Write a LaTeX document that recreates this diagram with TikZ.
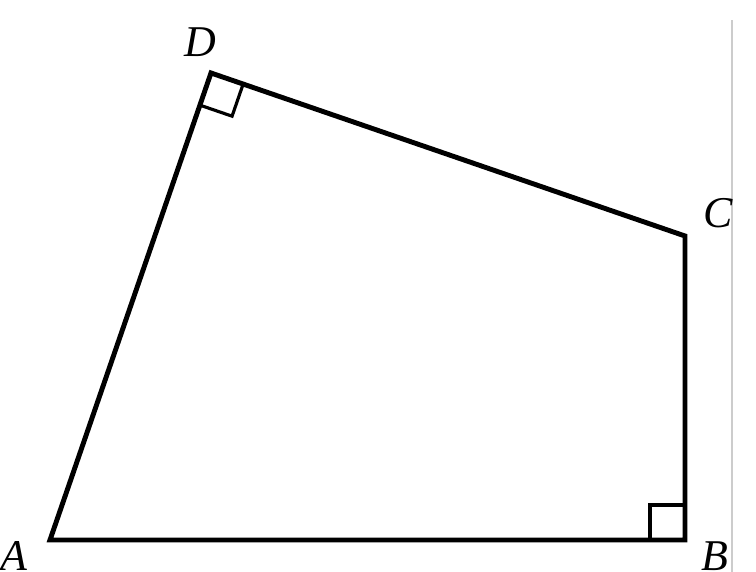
\documentclass[tikz,border=0pt]{standalone}
\usepackage{fontspec}
\setmainfont{Liberation Serif}
\usepackage{tikz}
\usetikzlibrary{positioning,calc}

\begin{document}
\begin{tikzpicture}[lbl/.style={font=\fontsize{25}{30}\selectfont\itshape,inner sep=0pt}]
				\useasboundingbox (0,0) rectangle (15.12,11.44);
				\coordinate (A) at (1.0,0.64);
				\coordinate (B) at (13.7,0.64);
				\coordinate (C) at (13.7,6.72);
				\coordinate (D) at (4.22,9.98);
				\draw[gray!40,line width=.6pt] (14.64,0) -- (14.64,11.04);
				\draw[line width=2.8pt,line join=miter] (A) -- (B) -- (C) -- (D) -- cycle;
				\draw[line width=1.8pt] ($(B)+(-0.7,0)$) -- ++(0,0.7) -- ++(0.7,0);
				\draw[line width=1.8pt] ($(D)!0.68cm!(C)$) -- ($(D)!0.68cm!(C)+(D)!0.68cm!(A)-(D)$) -- ($(D)!0.68cm!(A)$);
				\node[lbl,anchor=south] (lA) at (0.28,0.02) {A};
				\node[lbl,anchor=south] (lB) at (14.3,0.02) {B};
				\node[lbl] (lC) at (14.36,7.18) {C};
				\node[lbl] (lD) at (4.0,10.6) {D};
			\end{tikzpicture}
\end{document}
